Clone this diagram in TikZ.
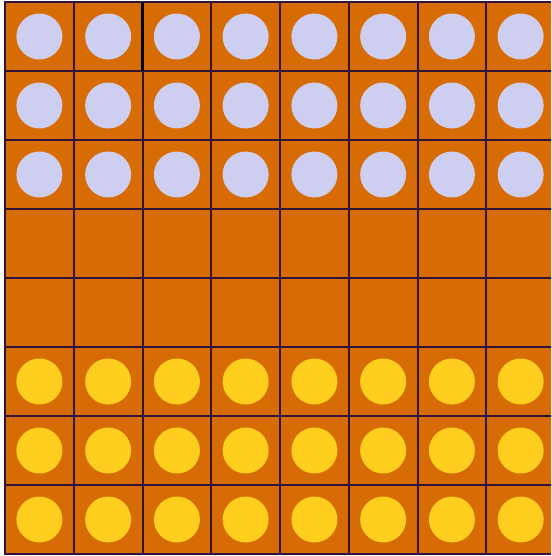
\documentclass[tikz,border=0pt]{standalone}
\usepackage{xcolor}
\usepackage{tikz}
\definecolor{boardbrown}{RGB}{216,108,4}
\definecolor{gridline}{RGB}{48,20,58}
\definecolor{lavender}{RGB}{206,206,240}
\definecolor{golden}{RGB}{255,206,30}
\tikzset{
  cell/.style={draw=gridline, line width=2pt, fill=boardbrown},
  stone/.style={circle, minimum size=46pt, inner sep=0pt, draw=none},
  lightstone/.style={stone, fill=lavender},
  yellowstone/.style={stone, fill=golden},
}

\begin{document}
\begin{tikzpicture}[x=1pt,y=-1pt]
  \useasboundingbox (0,0) rectangle (551,556);
  \fill[white] (0,0) rectangle (551,556);
  \clip (0,0) rectangle (551,556);
  % board squares
  \foreach \r in {0,...,7}
    \foreach \c in {0,...,7}
      \draw[cell] (5+68.75*\c, 2+69*\r) rectangle ++(68.75,69);
  % darker edge in the first row
  \draw[line width=2.6pt, black] (142.5,2) -- (142.5,71);
  % light stones, top three rows
  \foreach \r in {0,1,2}
    \foreach \c in {0,...,7}
      \node[lightstone] (l-\r-\c) at (39.4+68.75*\c, 36.5+69*\r) {};
  % yellow stones, bottom three rows
  \foreach \r in {5,6,7}
    \foreach \c in {0,...,7}
      \node[yellowstone] (y-\r-\c) at (39.4+68.75*\c, 36.5+69*\r) {};
\end{tikzpicture}
\end{document}
